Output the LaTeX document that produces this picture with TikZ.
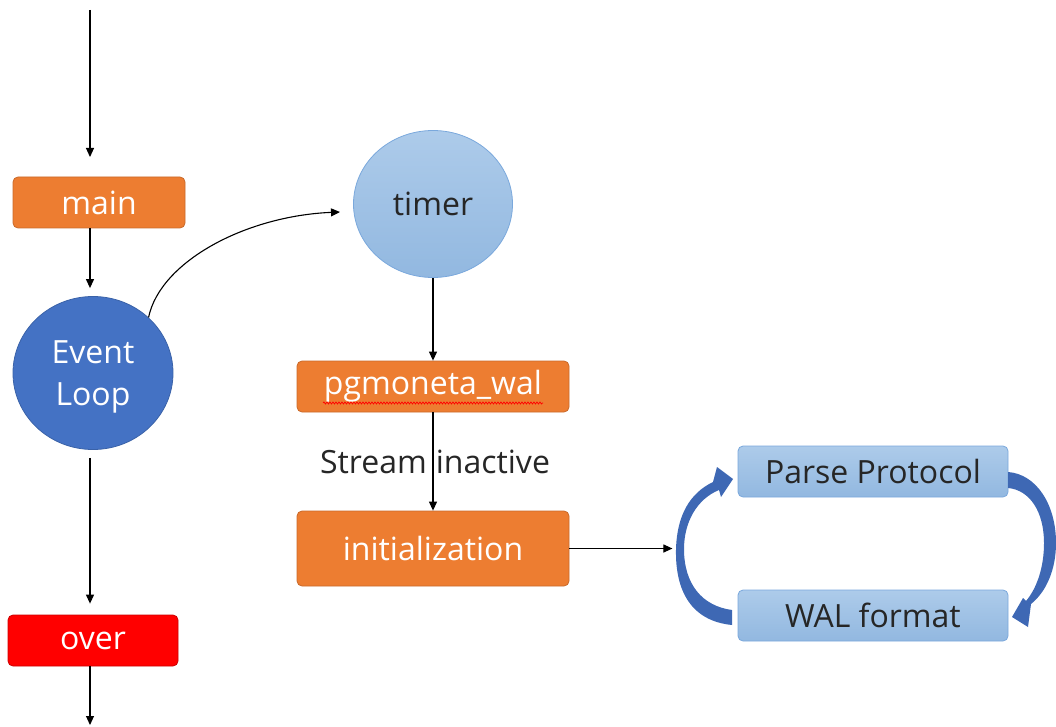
\documentclass[tikz,border=0pt]{standalone}
\usepackage{fontspec}
\setmainfont{Open Sans}
\usetikzlibrary{arrows.meta,shapes.geometric,decorations.pathmorphing,calc}
\definecolor{orng}{HTML}{ED7D31}
\definecolor{orngline}{HTML}{C96A2A}
\definecolor{dblue}{HTML}{4472C4}
\definecolor{dblueline}{HTML}{3A62A8}
\definecolor{lbluetop}{HTML}{ADCBEA}
\definecolor{lbluebot}{HTML}{92B8E0}
\definecolor{lblueline}{HTML}{7AA8DC}
\definecolor{loopblue}{HTML}{3E68B4}
\tikzset{
  txt/.style={font=\fontsize{32}{42}\selectfont},
  obox/.style={txt, draw=orngline, fill=orng, text=white, rounded corners=5pt, line width=0.8pt},
  lbox/.style={txt, draw=lblueline, top color=lbluetop, bottom color=lbluebot, text=black!85, rounded corners=5pt, line width=0.8pt},
  arr/.style={-{Triangle[length=9pt,width=8pt]}, line width=1.1pt, black},
  loopar/.style={fill=loopblue, draw=none}
}
\begin{document}
\begin{tikzpicture}[x=1pt,y=-1pt]
    \useasboundingbox (0,0) rectangle (1056,727);
		\coordinate (top) at (90,10);
		\coordinate (bot) at (90,725);
		\node[obox, minimum width=172pt, minimum height=51pt] (main) at (99,202.5) {main};
		\node[ellipse, draw=dblueline, fill=dblue, line width=0.8pt, minimum width=160pt, minimum height=153pt] (loop) at (93,373) {};
		\node[txt, text=white, align=center] (looptxt) at (93,377) {Event\\Loop};
		\node[ellipse, txt, draw=lblueline, top color=lbluetop, bottom color=lbluebot, text=black!85, line width=0.8pt, minimum width=159pt, minimum height=147pt] (timer) at (433,204) {timer};
		\node[obox, minimum width=272pt, minimum height=51pt] (wal) at (433,386.5) {pgmoneta\_wal};
		\node[obox, minimum width=272pt, minimum height=75pt] (init) at (433,548.5) {initialization};
		\node[lbox, minimum width=270pt, minimum height=51pt] (parse) at (873,471.5) {Parse Protocol};
		\node[lbox, minimum width=270pt, minimum height=51pt] (walfmt) at (873,615.5) {WAL format};
		\node[obox, draw=red!80!black, fill=red, minimum width=170pt, minimum height=51pt] (over) at (93,640.5) {over};
		\coordinate (tmr) at (340,212);
		\draw[arr] (top) -- (90,157);
		\draw[arr] (main.south -| top) -- ([yshift=8pt]loop.north -| top);
		\draw[arr] (loop.45) .. controls (160,262) and (245,216) .. (tmr);
		\draw[arr] (timer.south) -- (wal.north);
		\draw[arr] (wal.south) -- node[txt, text=black!85, xshift=2pt] {Stream\hspace{9pt}inactive} (init.north);
		\draw[arr] (init.east) -- ++(103,0);
		\draw[arr] ([yshift=-8pt]loop.south -| top) -- ([yshift=11pt]over.north -| top);
		\draw[arr] (over.south -| top) -- (bot);
		% spell check underline
		\draw[red, line width=0.7pt, decorate, decoration={snake, amplitude=1pt, segment length=3pt}] (323,403) -- (543,403);
		% loop arrows
		\fill[loopar] (732,625) .. controls (692,621) and (675,592) .. (676,549)
		  .. controls (677,515) and (690,493) .. (713,482) -- (717,467) -- (733,479) -- (721,497)
		  -- (719,490) .. controls (697,499) and (684,522) .. (684,549)
		  .. controls (684,584) and (702,606) .. (732,610) -- cycle;
		\fill[loopar] (1008,472) .. controls (1036,474) and (1056,504) .. (1056,543)
		  .. controls (1056,570) and (1046,592) .. (1031,604) -- (1028,627) -- (1012,617) -- (1023,598)
		  -- (1026,601) .. controls (1037,588) and (1044,567) .. (1044,543)
		  .. controls (1044,512) and (1030,490) .. (1008,488) -- cycle;
\end{tikzpicture}
\end{document}
